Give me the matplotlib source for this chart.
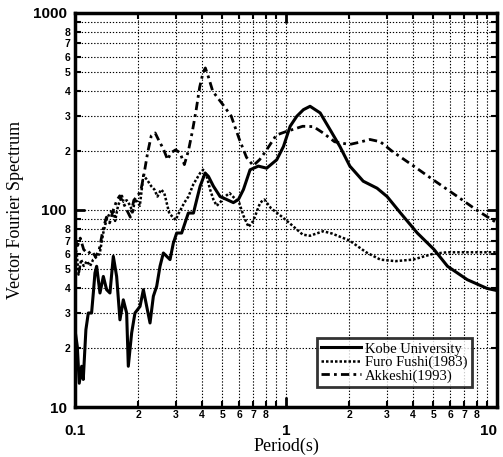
import matplotlib
matplotlib.use("Agg")
import matplotlib.pyplot as plt
from matplotlib.ticker import FixedLocator, FuncFormatter
import numpy as np

# Kobe University (solid)
kobe_t = [0.100, 0.1026, 0.1048, 0.1076, 0.1095, 0.1127, 0.1157, 0.1199, 0.1222, 0.1244,
          0.1267, 0.1314, 0.1363, 0.1413, 0.1465, 0.1520, 0.1576, 0.1634, 0.1695, 0.1758,
          0.1790, 0.1857, 0.1925, 0.2034, 0.2110, 0.2188, 0.2269, 0.2353, 0.2440, 0.2530,
          0.2624, 0.2721, 0.2822, 0.2927, 0.3035, 0.3204, 0.3323, 0.3446, 0.3644, 0.3779,
          0.3919, 0.4140, 0.4293, 0.4532, 0.4873, 0.5240, 0.5635, 0.5952, 0.6287, 0.6760,
          0.7400, 0.8101, 0.9047, 0.9731, 1.0466, 1.1254, 1.2100, 1.3010, 1.4525, 1.6173,
          1.8022, 2.0081, 2.3235, 2.7028, 3.0155, 3.4916, 4.1931, 5.0357, 5.8299, 7.2300,
          8.9653, 10.0]
kobe_v = [24.7, 20.3, 13.2, 16.1, 13.8, 24.7, 30, 30, 37.9, 47.9,
          51.8, 37.9, 46, 39.4, 37.9, 58.2, 46, 27.7, 35, 30,
          16.1, 23.8, 30, 32.4, 39.4, 32.4, 26.7, 36.5, 41, 51.8,
          60.5, 58.2, 56, 68, 76.4, 76.4, 85.9, 96.5, 96.5, 113,
          132, 154, 148, 132, 117, 113, 109, 113, 127, 160,
          167, 163, 180, 210, 266, 299, 323, 336, 311, 256,
          210, 167, 140, 129, 117, 96.5, 76.4, 63, 51.8, 44.3,
          40, 39]

# Furo Fushi (1983) (dotted)
furo_t = [0.100, 0.102, 0.104, 0.107, 0.110, 0.114, 0.118, 0.122, 0.127, 0.131,
          0.136, 0.141, 0.146, 0.152, 0.155, 0.160, 0.167, 0.170, 0.176, 0.183,
          0.188, 0.192, 0.198, 0.203, 0.211, 0.220, 0.230, 0.238, 0.246, 0.256,
          0.265, 0.280, 0.300, 0.310, 0.330, 0.345, 0.364, 0.392, 0.405, 0.420,
          0.437, 0.453, 0.470, 0.490, 0.515, 0.540, 0.565, 0.600, 0.630, 0.665,
          0.700, 0.755, 0.790, 0.850, 0.950, 1.05, 1.20, 1.30, 1.50, 1.65,
          2.00, 2.40, 2.80, 3.30, 4.00, 5.00, 5.80, 7.00, 10.0]
furo_v = [66, 60, 47, 56, 52, 55, 52, 56, 58, 60,
          76, 89, 96, 100, 88, 105, 118, 110, 112, 105,
          96, 113, 110, 105, 150, 142, 132, 127, 117, 127,
          122, 96, 89, 96, 109, 117, 135, 154, 160, 150,
          127, 113, 105, 110, 117, 122, 116, 109, 93, 82,
          88, 109, 113, 102, 93, 85, 75, 74, 78, 76,
          70, 61, 56, 55, 56, 60, 61, 61, 61]

# Akkeshi (1993) (dash-dot)
akk_t = [0.100, 0.103, 0.106, 0.110, 0.115, 0.120, 0.125, 0.130, 0.136, 0.141,
         0.146, 0.152, 0.158, 0.163, 0.170, 0.176, 0.183, 0.190, 0.198, 0.205,
         0.212, 0.221, 0.230, 0.240, 0.250, 0.262, 0.275, 0.285, 0.300, 0.315,
         0.330, 0.345, 0.360, 0.375, 0.390, 0.405, 0.415, 0.430, 0.450, 0.500,
         0.550, 0.600, 0.650, 0.700, 0.750, 0.800, 0.900, 1.000, 1.100, 1.200,
         1.350, 1.500, 1.700, 2.000, 2.200, 2.500, 2.800, 3.200, 4.000, 5.000,
         6.500, 8.000, 10.00]
akk_v = [70, 66, 72, 63, 60, 62, 58, 62, 80, 92,
         86, 100, 112, 118, 108, 100, 92, 112, 118, 125,
         150, 195, 238, 246, 225, 205, 180, 195, 202, 195,
         170, 200, 250, 320, 420, 500, 526, 470, 400, 345,
         300, 230, 185, 168, 180, 198, 240, 250, 258, 266,
         265, 246, 222, 215, 220, 228, 222, 198, 168, 142,
         117, 100, 86]

labels = ["Kobe University", "Furo Fushi(1983)", "Akkeshi(1993)"]

fig = plt.figure(figsize=(5.03, 4.57), dpi=100)
ax = fig.add_axes([0.149, 0.1094, 0.839, 0.8622])

ax.plot(kobe_t, kobe_v, color="black", lw=2.2, solid_joinstyle="round", label=labels[0])
ax.plot(furo_t, furo_v, color="black", lw=1.8, linestyle=(0, (1, 0.8)), label=labels[1])
ax.plot(akk_t, akk_v, color="black", lw=2.0, linestyle=(0, (3, 1.5, 1, 1.5)), label=labels[2])

ax.set_xscale("log")
ax.set_yscale("log")
ax.set_xlim(0.1, 10)
ax.set_ylim(10, 1000)

xmaj = [0.1, 1, 10]
ymaj = [10, 100, 1000]
xmin = [m * d for d in (0.1, 1) for m in range(2, 10)]
ymin = [m * d for d in (10, 100) for m in range(2, 10)]

ax.xaxis.set_major_locator(FixedLocator(xmaj))
ax.yaxis.set_major_locator(FixedLocator(ymaj))
ax.xaxis.set_minor_locator(FixedLocator(xmin))
ax.yaxis.set_minor_locator(FixedLocator(ymin))

def major_fmt(v, pos):
    if v < 1:
        return "0.1"
    return str(int(round(v)))

def minor_fmt(v, pos):
    lead = int(round(v / 10 ** np.floor(np.log10(v) + 1e-9)))
    return "" if lead == 9 else str(lead)

ax.xaxis.set_major_formatter(FuncFormatter(major_fmt))
ax.yaxis.set_major_formatter(FuncFormatter(major_fmt))
ax.xaxis.set_minor_formatter(FuncFormatter(minor_fmt))
ax.yaxis.set_minor_formatter(FuncFormatter(minor_fmt))

ax.tick_params(which="both", direction="in", top=True, right=True, color="black")
ax.tick_params(which="major", length=7, width=2.0, labelsize=11, pad=12)
ax.tick_params(which="minor", length=4, width=1.5, labelsize=7.5, pad=2)
ax.tick_params(axis="y", which="major", pad=6)
ax.tick_params(axis="y", which="minor", pad=3)
for lab in ax.get_xticklabels(which="both") + ax.get_yticklabels(which="both"):
    lab.set_fontfamily("Liberation Sans")
    lab.set_fontweight("bold")

# keep the right-most major x label inside the figure
fig.canvas.draw()
xl = ax.get_xticklabels()
xl[-1].set_horizontalalignment("right")

ax.grid(True, which="both", color="black", linestyle=(0, (1.2, 1.6)), lw=0.8)
for s in ax.spines.values():
    s.set_linewidth(2.5)

serif = "Liberation Serif"
ax.set_xlabel("Period(s)", fontfamily=serif, fontsize=13, labelpad=0)
ax.set_ylabel("Vector Fourier Spectrum", fontfamily=serif, fontsize=13, labelpad=6)

leg = ax.legend(loc="lower right", bbox_to_anchor=(0.941, 0.051), prop={"family": serif, "size": 10.5},
                frameon=True, fancybox=False, edgecolor="black", handlelength=2.7,
                borderpad=0.3, labelspacing=0.0, handletextpad=0.3, borderaxespad=0)
leg.get_frame().set_linewidth(2.0)

fig.savefig("out.png", dpi=100)
